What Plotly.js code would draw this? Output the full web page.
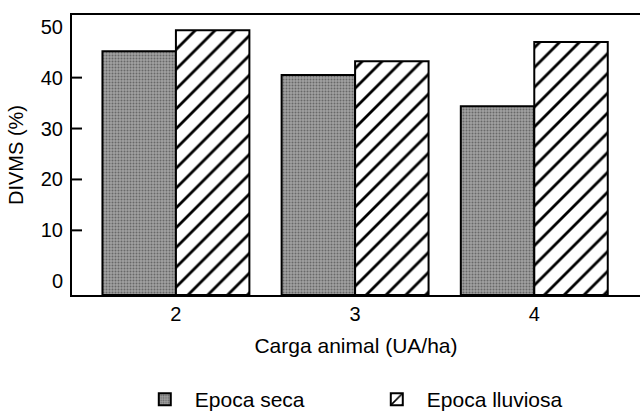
<!DOCTYPE html>
<html>
<head>
<meta charset="utf-8">
<script src="https://cdn.plot.ly/plotly-3.0.1.min.js"></script>
<style>html,body{margin:0;padding:0;background:#fff;}#chart{width:640px;height:420px;}</style>
</head>
<body>
<div id="chart"></div>
<script>
const categories = [2, 3, 4];
const tickLabels = ['2', '3', '4'];
const seriesNames = ['Epoca seca', 'Epoca lluviosa'];
const epocaSeca = [45.2, 40.5, 34.4];
const epocaLluviosa = [49.3, 43.2, 47.0];
const yTickVals = [0, 10, 20, 30, 40, 50];
const yTickMarks = [10, 20, 30, 40];

const yMin = -2.7, yMax = 52.3;
const fam = 'Liberation Sans, Arial, sans-serif';
const font = {family: fam, size: 20, color: '#000'};
const W = 640, H = 420, M = {l: 72, r: 0, t: 15, b: 120};
const tickLenPx = 10;

function barTrace(name, vals, bg, pattern) {
  return {
    type: 'bar', name: name, x: categories,
    y: vals.map(v => v - yMin), base: yMin,
    marker: {color: bg, line: {color: '#000', width: 2}, pattern: pattern},
    hoverinfo: 'skip'
  };
}

const data = [
  barTrace(seriesNames[0], epocaSeca, '#a2a2a2', {shape: '.', bgcolor: '#a2a2a2', fgcolor: '#686868', fgopacity: 1, size: 3, solidity: 0.35, fillmode: 'overlay'}),
  barTrace(seriesNames[1], epocaLluviosa, '#fff', {shape: '/', bgcolor: '#fff', fgcolor: '#000', fgopacity: 1, size: 14, solidity: 0.2, fillmode: 'overlay'})
];

// inward tick marks on the value axis (10–40 only, as in the reference)
const tickShapes = yTickMarks.map(v => ({
  type: 'line', xref: 'paper', yref: 'y',
  x0: 0, x1: tickLenPx / (W - M.l - M.r), y0: v, y1: v,
  line: {color: '#000', width: 2}, layer: 'above'
}));

const layout = {
  width: W, height: H,
  margin: M,
  paper_bgcolor: '#fff', plot_bgcolor: '#fff',
  font: font,
  barmode: 'group', bargap: 0.18, bargroupgap: 0,
  showlegend: true,
  legend: {orientation: 'h', x: 0.519, xanchor: 'center', y: -0.3, yanchor: 'top',
           font: {family: fam, size: 21, color: '#000'}, entrywidth: 167, itemwidth: 50},
  shapes: tickShapes,
  xaxis: {
    range: [1.42, 4.59], tickvals: categories, ticktext: tickLabels,
    showline: true, linecolor: '#000', linewidth: 2, mirror: true,
    ticks: '', showgrid: false, zeroline: false, fixedrange: true,
    title: {text: 'Carga animal (UA/ha)', standoff: 14, font: {family: fam, size: 21, color: '#000'}}
  },
  yaxis: {
    range: [yMin, yMax], tickmode: 'array', tickvals: yTickVals, ticktext: yTickVals.map(String),
    showline: true, linecolor: '#000', linewidth: 2,
    ticks: '', showgrid: false, zeroline: false, fixedrange: true, ticklabelstandoff: 3,
    title: {text: 'DIVMS (%)', standoff: 12, font: {family: fam, size: 20, color: '#000'}}
  }
};

Plotly.newPlot('chart', data, layout, {staticPlot: true});
</script>
</body>
</html>
